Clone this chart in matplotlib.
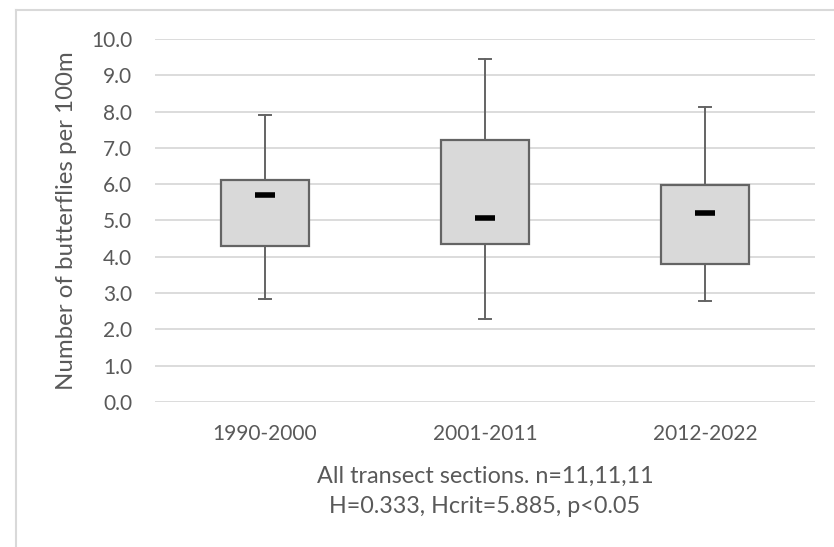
import matplotlib
matplotlib.use("Agg")
import matplotlib.pyplot as plt
from matplotlib.lines import Line2D

categories = ["1990-2000", "2001-2011", "2012-2022"]
whisker_low = [2.85, 2.30, 2.77]
q1 = [4.30, 4.34, 3.80]
marker_val = [5.70, 5.06, 5.20]
q3 = [6.12, 7.22, 5.97]
whisker_high = [7.91, 9.46, 8.12]
yticks = [0.0, 1.0, 2.0, 3.0, 4.0, 5.0, 6.0, 7.0, 8.0, 9.0, 10.0]
ylabel = "Number of butterflies per 100m"
xlabel = "All transect sections. n=11,11,11\nH=0.333, Hcrit=5.885, p<0.05"

plt.rcParams['font.family'] = ['Lato', 'DejaVu Sans']
W, H = 834, 547
fig = plt.figure(figsize=(W / 100, H / 100), dpi=100)
ax = fig.add_axes([155 / W, (H - 402) / H, 660 / W, 363 / H])

stats = []
for i in range(len(categories)):
    stats.append(dict(whislo=whisker_low[i], q1=q1[i], med=marker_val[i],
                      q3=q3[i], whishi=whisker_high[i], mean=marker_val[i],
                      fliers=[], label=categories[i]))

edge = "#646464"
ax.bxp(stats, positions=range(len(categories)), widths=0.4, patch_artist=True,
       showmeans=True, meanline=False, capwidths=0.055,
       boxprops=dict(facecolor="#d9d9d9", edgecolor=edge, linewidth=1.6),
       whiskerprops=dict(color=edge, linewidth=1.4),
       capprops=dict(color=edge, linewidth=1.4),
       medianprops=dict(linewidth=0),
       meanprops=dict(marker="_", markersize=14, markeredgewidth=4.0,
                      markeredgecolor="black", markerfacecolor="black"),
       zorder=3)

ax.set_xlim(-0.5, 2.5)
ax.set_ylim(0, 10)
ax.set_yticks(yticks)
ax.set_yticklabels([f"{v:.1f}" for v in yticks])
ax.yaxis.grid(True, color="#d9d9d9", linewidth=1.3, zorder=0)
ax.set_axisbelow(True)
for s in ax.spines.values():
    s.set_visible(False)
ax.tick_params(axis="both", length=0, labelsize=15, colors="#595959")
ax.tick_params(axis="y", pad=16.5)
ax.tick_params(axis="x", pad=16)
ax.set_ylabel(ylabel, fontsize=17.3, color="#595959", labelpad=10)
ax.set_xlabel(xlabel, fontsize=16.8, color="#595959", labelpad=15.5, linespacing=1.52)

fig.add_artist(Line2D([16 / W, 16 / W], [0, (H - 10) / H], color="#d9d9d9", linewidth=1.5))
fig.add_artist(Line2D([16 / W, 1], [(H - 10) / H, (H - 10) / H], color="#d9d9d9", linewidth=1.5))

fig.savefig("out.png", dpi=100)
